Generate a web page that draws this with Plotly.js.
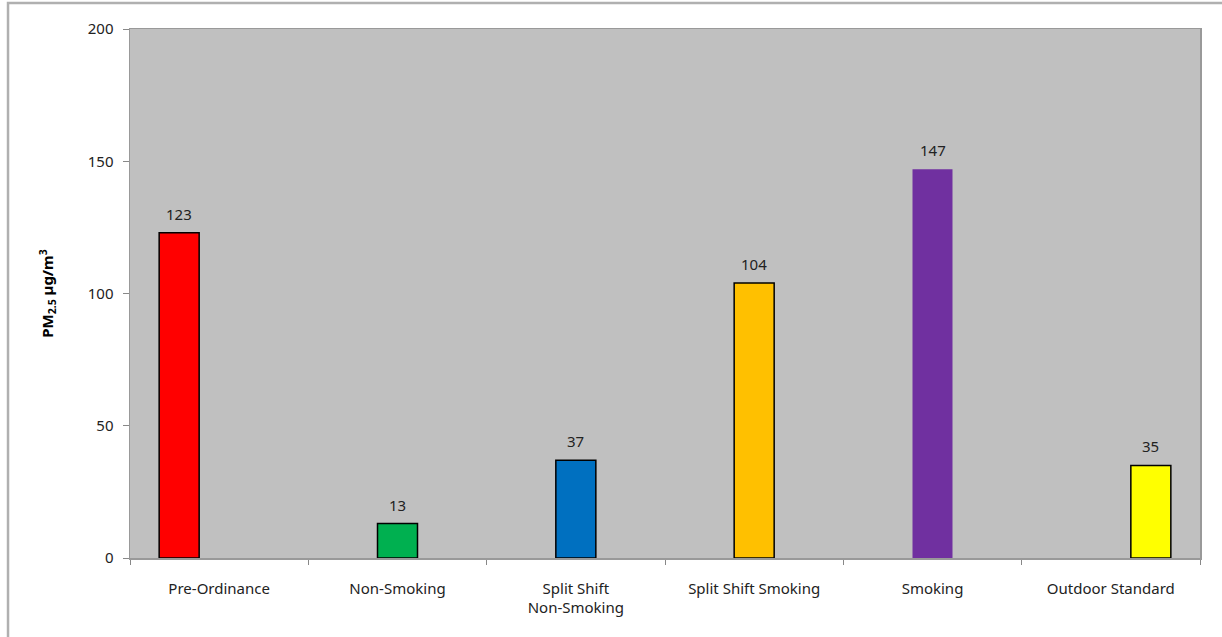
<!DOCTYPE html>
<html>
<head>
<meta charset="utf-8">
<script src="https://cdn.plot.ly/plotly-3.0.1.min.js"></script>
<style>html,body{margin:0;padding:0;background:#fff;}#chart{width:1222px;height:637px;}</style>
</head>
<body>
<div id="chart"></div>
<script>
const categories = ["Pre-Ordinance", "Non-Smoking", "Split Shift<br>Non-Smoking", "Split Shift Smoking", "Smoking", "Outdoor Standard"];
const leftSeries = [123, null, null, null, null, null];
const middleSeries = [null, 13, 37, 104, 147, null];
const rightSeries = [null, null, null, null, null, 35];
const barColors = ["#ff0000", "#00b050", "#0070c0", "#ffc000", "#7030a0", "#ffff00"];
const outlineWidths = [1.5, 1.5, 1.5, 1.5, 0, 1.5];
const yTicks = [0, 50, 100, 150, 200];

const font = "Noto Sans, Open Sans, sans-serif";
function mk(vals) {
  return {
    type: "bar",
    x: categories,
    y: vals,
    marker: { color: barColors, line: { color: "#000000", width: outlineWidths } },
    hoverinfo: "skip",
    showlegend: false
  };
}

const series = [leftSeries, middleSeries, rightSeries];
const data = series.map(mk);

// value labels above bars, offset to match each series' slot in the group
const slotShift = [-40, 0, 40];
const annotations = [];
series.forEach((vals, s) => {
  vals.forEach((v, i) => {
    if (v === null) return;
    annotations.push({
      x: categories[i], y: v, xref: "x", yref: "y",
      text: String(v), showarrow: false,
      xanchor: "center", yanchor: "bottom",
      xshift: slotShift[s], yshift: 7,
      font: { family: font, size: 15, color: "#222" }
    });
  });
});

const layout = {
  width: 1222, height: 637,
  margin: { l: 130, r: 22, t: 29, b: 79 },
  paper_bgcolor: "#ffffff",
  plot_bgcolor: "#c0c0c0",
  barmode: "group",
  bargap: 0.327,
  bargroupgap: 0,
  font: { family: font, size: 15, color: "#222" },
  annotations: annotations,
  xaxis: {
    type: "category",
    tickson: "boundaries",
    ticks: "outside", ticklen: 5, tickcolor: "#888",
    showline: true, linecolor: "#999", linewidth: 1.5, mirror: true,
    showgrid: false, zeroline: false,
    ticklabelstandoff: 16,
    tickfont: { family: font, size: 15, color: "#222" },
    fixedrange: true
  },
  yaxis: {
    range: [0, 200],
    tickvals: yTicks,
    ticktext: yTicks.map(String),
    ticks: "outside", ticklen: 6, tickcolor: "#888",
    showline: true, linecolor: "#999", linewidth: 1.5, mirror: true,
    showgrid: false, zeroline: false,
    ticklabelstandoff: 6,
    tickfont: { family: font, size: 15, color: "#222" },
    title: { text: "<b>PM<sub>2.5</sub> µg/m<sup>3</sup></b>", font: { family: font, size: 15, color: "#000" }, standoff: 30 },
    fixedrange: true
  },
  shapes: [
    { type: "rect", xref: "paper", yref: "paper", x0: -0.114, x1: 1.05, y0: -0.3, y1: 1.049,
      line: { color: "#b0b0b0", width: 2.5 }, fillcolor: "rgba(0,0,0,0)", layer: "below" }
  ]
};

Plotly.newPlot("chart", data, layout, { displayModeBar: false, staticPlot: true });
</script>
</body>
</html>
